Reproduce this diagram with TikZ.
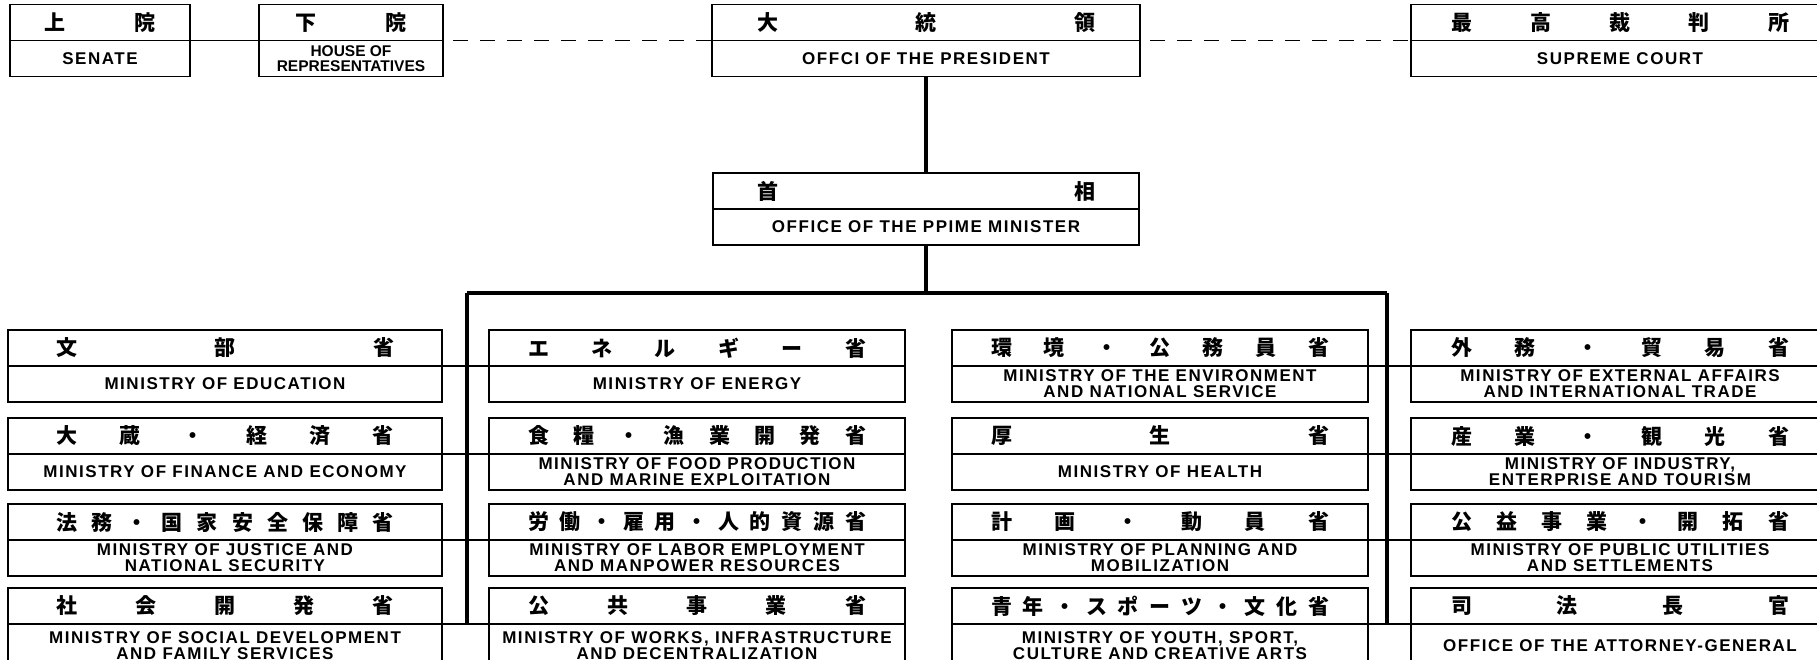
\documentclass[tikz,border=0pt]{standalone}
\usepackage{fontspec}
\usetikzlibrary{positioning}
\newfontfamily\jpfont{Noto Sans CJK JP}
\newfontfamily\enfont[LetterSpace=9]{Liberation Sans}
\newfontfamily\entight{Liberation Sans}
\newcommand\jrow[2]{\hbox to #1pt{\jrowi#2\jrowend}}
\def\jrowi#1#2\jrowend{#1\if\relax\detokenize{#2}\relax\else\hfill\jrowi#2\jrowend\fi}
\tikzset{jbox/.style={draw,line width=1.8pt,outer sep=0pt,inner sep=0pt,minimum height=36pt,font=\jpfont\bfseries\fontsize{21}{21}\selectfont},ebox/.style={draw,line width=1.8pt,outer sep=0pt,inner sep=0pt,minimum height=36pt,align=center,font=\enfont\bfseries\fontsize{17}{16}\selectfont},colA/.style={minimum width=434pt},colB/.style={minimum width=416pt},colD/.style={minimum width=418pt},link/.style={line width=2pt},bus/.style={line width=3.2pt},tie/.style={line width=1.4pt},dashlink/.style={line width=1.4pt,dash pattern=on 15pt off 12pt,dash phase=17pt}}

\begin{document}
\begin{tikzpicture}[x=1pt,y=-1pt]
\clip (0,0) rectangle (1817,660);
\node[jbox,minimum width=180pt] (sen) at (100,22.5) {\jrow{111}{上院}};
\node[ebox,minimum width=180pt,below=0pt of sen] (sen-e) {SENATE};
\node[jbox,minimum width=184pt] (hor) at (351,22.5) {\jrow{111}{下院}};
\node[ebox,minimum width=184pt,font=\entight\bfseries\fontsize{15.5}{14.5}\selectfont,below=0pt of hor] (hor-e) {HOUSE OF\\REPRESENTATIVES};
\node[jbox,minimum width=428pt] (pres) at (926,22.5) {\jrow{338}{大統領}};
\node[ebox,minimum width=428pt,below=0pt of pres] (pres-e) {OFFCI OF THE PRESIDENT};
\node[jbox,colD] (sup) at (1620,22.5) {\jrow{338}{最高裁判所}};
\node[ebox,colD,below=0pt of sup] (sup-e) {SUPREME COURT};
\node[jbox,minimum width=426pt] (pm) at (926,191) {\jrow{338}{首相}};
\node[ebox,minimum width=426pt,below=0pt of pm] (pm-e) {OFFICE OF THE PPIME MINISTER};

\node[jbox,colA] (edu) at (225,348) {\jrow{338}{文部省}};
\node[ebox,colA,below=0pt of edu] (edu-e) {MINISTRY OF EDUCATION};
\node[jbox,colA] (fin) at (225,436) {\jrow{338}{大蔵・経済省}};
\node[ebox,colA,below=0pt of fin] (fin-e) {MINISTRY OF FINANCE AND ECONOMY};
\node[jbox,colA] (jus) at (225,522) {\jrow{338}{法務・国家安全保障省}};
\node[ebox,colA,below=0pt of jus] (jus-e) {MINISTRY OF JUSTICE AND\\NATIONAL SECURITY};
\node[jbox,colA] (soc) at (225,606) {\jrow{338}{社会開発省}};
\node[ebox,colA,minimum height=44pt,below=0pt of soc] (soc-e) {MINISTRY OF SOCIAL DEVELOPMENT\\AND FAMILY SERVICES};

\node[jbox,colB] (ener) at (697,348) {\jrow{338}{エネルギー省}};
\node[ebox,colB,below=0pt of ener] (ener-e) {MINISTRY OF ENERGY};
\node[jbox,colB] (food) at (697,436) {\jrow{338}{食糧・漁業開発省}};
\node[ebox,colB,below=0pt of food] (food-e) {MINISTRY OF FOOD PRODUCTION\\AND MARINE EXPLOITATION};
\node[jbox,colB] (lab) at (697,522) {\jrow{338}{労働・雇用・人的資源省}};
\node[ebox,colB,below=0pt of lab] (lab-e) {MINISTRY OF LABOR EMPLOYMENT\\AND MANPOWER RESOURCES};
\node[jbox,colB] (wrk) at (697,606) {\jrow{338}{公共事業省}};
\node[ebox,colB,minimum height=44pt,below=0pt of wrk] (wrk-e) {MINISTRY OF WORKS, INFRASTRUCTURE\\AND DECENTRALIZATION};

\node[jbox,colB] (env) at (1160,348) {\jrow{338}{環境・公務員省}};
\node[ebox,colB,below=0pt of env] (env-e) {MINISTRY OF THE ENVIRONMENT\\AND NATIONAL SERVICE};
\node[jbox,colB] (hea) at (1160,436) {\jrow{338}{厚生省}};
\node[ebox,colB,below=0pt of hea] (hea-e) {MINISTRY OF HEALTH};
\node[jbox,colB] (pla) at (1160,522) {\jrow{338}{計画・動員省}};
\node[ebox,colB,below=0pt of pla] (pla-e) {MINISTRY OF PLANNING AND\\MOBILIZATION};
\node[jbox,colB] (you) at (1160,606) {\jrow{338}{青年・スポーツ・文化省}};
\node[ebox,colB,minimum height=44pt,below=0pt of you] (you-e) {MINISTRY OF YOUTH, SPORT,\\CULTURE AND CREATIVE ARTS};

\node[jbox,colD] (ext) at (1620,348) {\jrow{338}{外務・貿易省}};
\node[ebox,colD,below=0pt of ext] (ext-e) {MINISTRY OF EXTERNAL AFFAIRS\\AND INTERNATIONAL TRADE};
\node[jbox,colD] (ind) at (1620,436) {\jrow{338}{産業・観光省}};
\node[ebox,colD,below=0pt of ind] (ind-e) {MINISTRY OF INDUSTRY,\\ENTERPRISE AND TOURISM};
\node[jbox,colD] (pub) at (1620,522) {\jrow{338}{公益事業・開拓省}};
\node[ebox,colD,below=0pt of pub] (pub-e) {MINISTRY OF PUBLIC UTILITIES\\AND SETTLEMENTS};
\node[jbox,colD] (att) at (1620,606) {\jrow{338}{司法長官}};
\node[ebox,colD,minimum height=44pt,below=0pt of att] (att-e) {OFFICE OF THE ATTORNEY-GENERAL};

\coordinate (busL) at (467,293);
\coordinate (busR) at (1387,293);
\draw[tie] (sen.south east) -- (hor.south west);
\draw[dashlink] (hor.south east) -- (pres.south west);
\draw[dashlink] (pres.south east) -- (sup.south west);
\draw[bus] (pres-e.south) -- (pm.north);
\draw[bus] (pm-e.south) -- (pm-e.south |- busL);
\draw[bus] (busL) -- (busR);
\draw[bus] (busL) -- (busL |- soc.south);
\draw[bus] (busR) -- (busR |- you.south);
\foreach \a/\b in {edu/ener,fin/food,jus/lab,soc/wrk,env/ext,hea/ind,pla/pub,you/att}
  \draw[link] (\a.south east) -- (\b.south west);
\end{tikzpicture}
\end{document}
